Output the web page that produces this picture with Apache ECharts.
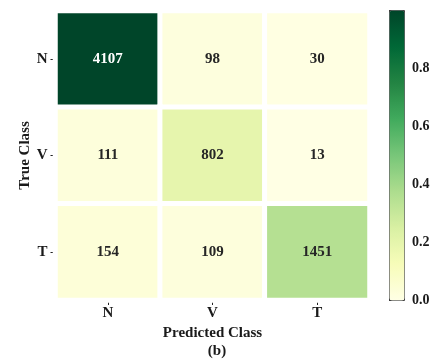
<!DOCTYPE html>
<html>
<head>
<meta charset="utf-8">
<script src="https://cdn.jsdelivr.net/npm/echarts@6/dist/echarts.min.js"></script>
<style>
  html, body { margin: 0; padding: 0; background: #fff; }
  #chart { width: 436px; height: 359px; }
</style>
</head>
<body>
<div id="chart"></div>
<script>
// Confusion matrix: rows are true classes, columns are predicted classes
const classes = ['N', 'V', 'T'];
const rowN = [4107, 98, 30];
const rowV = [111, 802, 13];
const rowT = [154, 109, 1451];
const colorbarTicks = [0, 0.2, 0.4, 0.6, 0.8];

// YlGn colour ramp
const ylgn = ['#ffffe5', '#f7fcb9', '#d9f0a3', '#addd8e', '#78c679',
              '#41ab5d', '#238443', '#006837', '#004529'];

const rows = [rowN, rowV, rowT];
const maxCount = Math.max(...rows.flat());

const cells = [];
rows.forEach((row, r) => {
  row.forEach((v, c) => {
    cells.push({
      value: [c, r, v],
      label: { color: v / maxCount > 0.5 ? '#ffffff' : '#262626' }
    });
  });
});

const FONT = '"Liberation Serif", "Times New Roman", serif';
const txt = (size) => ({ fontFamily: FONT, fontWeight: 'bold', fontSize: size, color: '#1a1a1a' });
const tick = { show: true, length: 5, lineStyle: { color: '#222', width: 1 } };

const chart = echarts.init(document.getElementById('chart'), null, { renderer: 'canvas' });

chart.setOption({
  animation: false,
  backgroundColor: '#ffffff',
  title: {
    text: '(b)',
    left: 212,
    top: 339,
    textAlign: 'center',
    textStyle: txt(15)
  },
  grid: [
    { left: 55.5, top: 11, width: 314, height: 289 },
    { left: 389, top: 10, width: 15, height: 290 }
  ],
  xAxis: [
    {
      type: 'category', gridIndex: 0, data: classes,
      axisLine: { show: false },
      axisTick: Object.assign({ alignWithLabel: true }, tick),
      axisLabel: Object.assign({ margin: 6 }, txt(15)),
      splitArea: { show: false },
      name: 'Predicted Class',
      nameLocation: 'middle',
      nameGap: 26,
      nameMoveOverlap: false,
      nameTextStyle: txt(15)
    },
    { type: 'value', gridIndex: 1, show: false, min: 0, max: 1 }
  ],
  yAxis: [
    {
      type: 'category', gridIndex: 0, data: classes, inverse: true,
      axisLine: { show: false },
      axisTick: Object.assign({ alignWithLabel: true }, tick),
      axisLabel: Object.assign({ margin: 8 }, txt(15)),
      name: 'True Class',
      nameLocation: 'middle',
      nameRotate: 90,
      nameGap: 23,
      nameMoveOverlap: false,
      nameTextStyle: txt(15)
    },
    {
      type: 'value', gridIndex: 1, position: 'right',
      min: 0, max: 1, interval: 0.2,
      axisLine: { show: false },
      splitLine: { show: false },
      axisTick: tick,
      axisLabel: Object.assign({
        margin: 8,
        formatter: (v) => colorbarTicks.some(t => Math.abs(t - v) < 1e-9) ? v.toFixed(1) : ''
      }, txt(14))
    }
  ],
  visualMap: {
    type: 'continuous',
    seriesIndex: 0,
    dimension: 2,
    min: 0,
    max: maxCount,
    calculable: false,
    orient: 'vertical',
    left: 389,
    top: 10,
    itemWidth: 15,
    itemHeight: 290,
    padding: 0,
    text: null,
    borderColor: '#444',
    borderWidth: 1,
    inRange: { color: ylgn.slice() }
  },
  series: [{
    type: 'heatmap',
    xAxisIndex: 0,
    yAxisIndex: 0,
    data: cells,
    itemStyle: { borderColor: '#ffffff', borderWidth: 5 },
    label: {
      show: true,
      formatter: (p) => String(p.value[2]),
      fontFamily: FONT,
      fontWeight: 'bold',
      fontSize: 15
    },
    emphasis: { disabled: true }
  }]
});
</script>
</body>
</html>
